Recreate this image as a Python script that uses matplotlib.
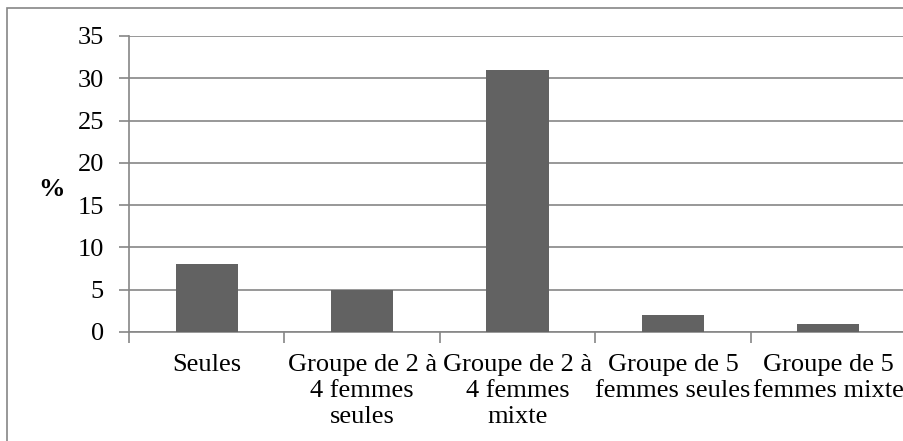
import matplotlib.pyplot as plt
from matplotlib.patches import Rectangle

# données
categories = ["Seules", "Groupe de 2 à\n4 femmes\nseules", "Groupe de 2 à\n4 femmes\nmixte",
              "Groupe de 5\nfemmes seules", "Groupe de 5\nfemmes mixte"]
valeurs = [8, 5, 31, 2, 1]
yticks = [0, 5, 10, 15, 20, 25, 30, 35]

plt.rcParams["font.family"] = "serif"
plt.rcParams["font.serif"] = ["Liberation Serif", "DejaVu Serif"]
grey = "#868686"

fig = plt.figure(figsize=(9.04, 4.41), dpi=100)
ax = fig.add_axes([129 / 904, 1 - 332 / 441, 777 / 904, 296 / 441])

x = list(range(len(categories)))
ax.bar(x, valeurs, width=0.4, color="#626262", zorder=3)

ax.set_xlim(-0.5, len(categories) - 0.5)
ax.set_ylim(0, 35)
ax.set_yticks(yticks)
ax.set_yticklabels([str(v) for v in yticks], fontsize=19)
ax.grid(axis="y", color=grey, linewidth=1.2, zorder=0)
ax.tick_params(axis="y", length=7, width=1.2, color=grey, pad=11)

ax.set_xticks(x)
ax.set_xticklabels(categories, fontsize=19)
for lab in ax.get_xticklabels():
    lab.set_linespacing(1.22)
ax.tick_params(axis="x", which="major", length=0, pad=16)
ax.set_xticks([i - 0.5 for i in range(len(categories) + 1)], minor=True)
ax.tick_params(axis="x", which="minor", length=8, width=1.2, color=grey)

for s in ["top", "right"]:
    ax.spines[s].set_visible(False)
for s in ["left", "bottom"]:
    ax.spines[s].set_color(grey)
    ax.spines[s].set_linewidth(1.2)

fig.text(52 / 904, 1 - 190 / 441, "%", fontsize=19, fontweight="bold", ha="center", va="center")

# cadre du graphique
fig.patches.append(Rectangle((7 / 904, -0.01), 1.0, 1 - 8 / 441 + 0.01, transform=fig.transFigure,
                             fill=False, edgecolor=grey, linewidth=1.2))

fig.savefig("out.png", dpi=100)
